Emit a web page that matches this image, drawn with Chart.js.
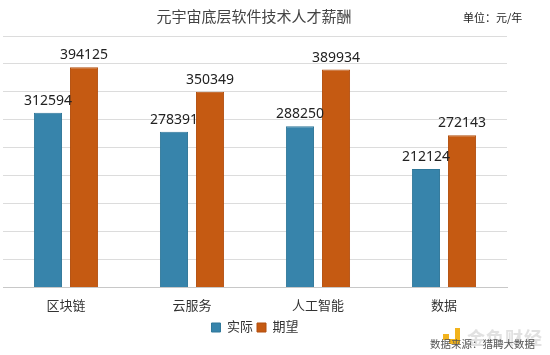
<!DOCTYPE html>
<html><head><meta charset="utf-8">
<script src="https://cdn.jsdelivr.net/npm/chart.js@4"></script>
<style>
html,body{margin:0;padding:0;background:#fff;}
#wrap{position:relative;width:550px;height:355px;}
canvas{position:absolute;left:0;top:0;}
.t{position:absolute;font-family:"Noto Sans CJK SC","Noto Sans",sans-serif;white-space:nowrap;line-height:1;}
</style></head><body>
<div id="wrap">
<canvas id="c" width="550" height="355"></canvas>
<div class="t" style="left:0;width:508px;top:8px;text-align:center;font-size:15px;color:#444;">元宇宙底层软件技术人才薪酬</div>
<div class="t" style="left:463px;top:12px;font-size:11px;color:#222;">单位：元/年</div>
<div style="position:absolute;left:449px;top:328px;width:11px;height:16px;border-right:5px solid #f2b31c;border-bottom:5px solid #f2b31c;box-sizing:border-box;"></div>
<div style="position:absolute;left:443px;top:334px;width:6px;height:6px;background:#f2b31c;"></div>
<div class="t" style="left:467px;top:328px;font-size:18px;color:rgba(200,200,200,0.55);font-weight:bold;letter-spacing:1px;">金色财经</div>
<div class="t" style="left:430px;top:339px;font-size:10.5px;color:#555;">数据来源：猎聘大数据</div>
</div>
<script>
const categories = ["区块链", "云服务", "人工智能", "数据"];
const actual = [312594, 278391, 288250, 212124];
const expected = [394125, 350349, 389934, 272143];
const seriesNames = ["实际", "期望"];

const FONT = '"Noto Sans","Noto Sans CJK SC",sans-serif';

const valueLabels = {
  id: 'valueLabels',
  afterDatasetsDraw(chart) {
    const ctx = chart.ctx;
    ctx.save();
    ctx.font = '14px ' + FONT;
    ctx.fillStyle = '#222';
    ctx.textAlign = 'center';
    ctx.textBaseline = 'bottom';
    chart.data.datasets.forEach((ds, i) => {
      chart.getDatasetMeta(i).data.forEach((bar, j) => {
        ctx.fillText(String(ds.data[j]), bar.x, bar.y - 5);
      });
    });
    ctx.restore();
  }
};

new Chart(document.getElementById('c'), {
  type: 'bar',
  data: {
    labels: categories,
    datasets: [
      {label: seriesNames[0], data: actual, backgroundColor: '#3784ab', borderColor: '#2f7799', borderWidth: 1},
      {label: seriesNames[1], data: expected, backgroundColor: '#c55a12', borderColor: '#b24f0e', borderWidth: 1}
    ]
  },
  options: {
    responsive: false,
    animation: false,
    devicePixelRatio: 1,
    layout: {padding: {left: 3, right: 43, top: 36, bottom: 11}},
    datasets: {bar: {categoryPercentage: 0.572, barPercentage: 0.78}},
    plugins: {
      title: {display: false},
      tooltip: {enabled: false},
      legend: {
        position: 'bottom',
        labels: {boxWidth: 9, boxHeight: 9, padding: 4, color: '#333', font: {size: 13, family: FONT}}
      }
    },
    scales: {
      x: {
        grid: {display: false},
        border: {color: '#c8c8c8', width: 1},
        ticks: {color: '#333', font: {size: 13, family: FONT}, padding: 3}
      },
      y: {
        min: 0, max: 450000,
        ticks: {display: false, stepSize: 50000},
        grid: {color: '#dcdcdc', drawTicks: false},
        border: {display: false}
      }
    }
  },
  plugins: [valueLabels]
});
</script>
</body></html>
